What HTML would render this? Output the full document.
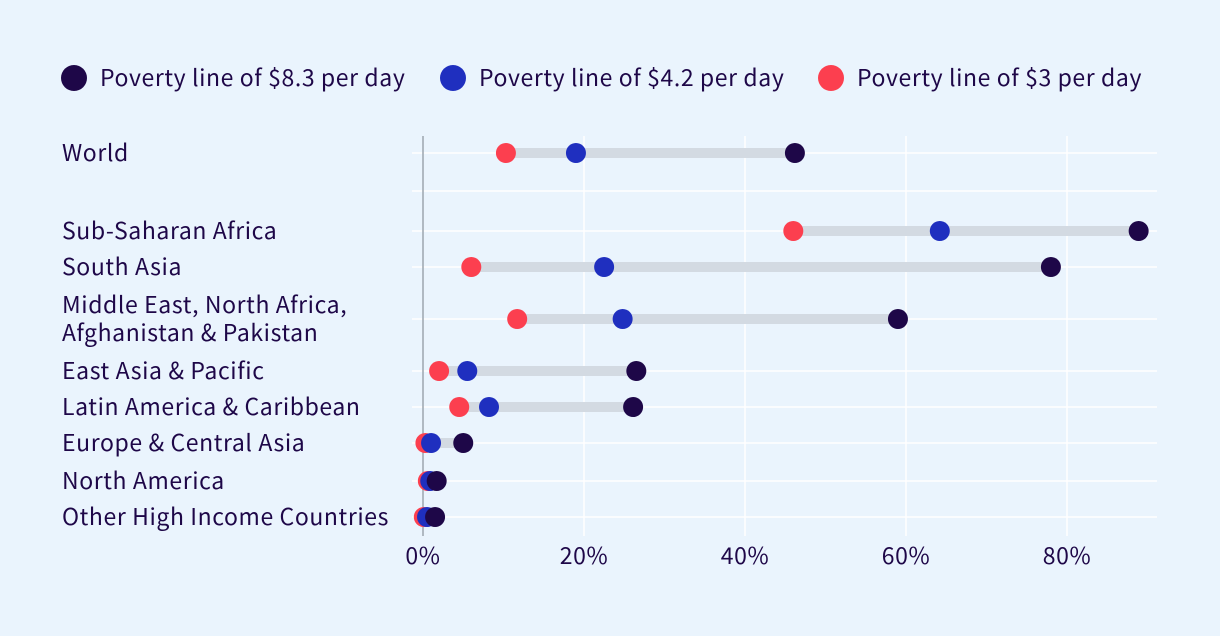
<!DOCTYPE html>
<html><head><meta charset="utf-8"><style>
body{margin:0;background:#eaf4fd;}
svg{display:block;font-family:"Noto Sans CJK JP","Liberation Sans",sans-serif;}
text{letter-spacing:0.6px;}
</style></head><body>
<svg id="chart" width="1220" height="636">
<rect width="1220" height="636" fill="#eaf4fd"/>
<g id="legend"></g>
<g id="grid"></g>
<g id="rows"></g>
<g id="xaxis"></g>
</svg>
<script>
const categories=["World","Sub-Saharan Africa","South Asia","Middle East, North Africa,|Afghanistan & Pakistan","East Asia & Pacific","Latin America & Caribbean","Europe & Central Asia","North America","Other High Income Countries"];
const line83=[46.2,88.9,78.0,59.0,26.5,26.1,5.0,1.7,1.5];
const line42=[19.0,64.2,22.5,24.8,5.5,8.2,1.0,0.9,0.5];
const line3=[10.3,46.0,6.0,11.7,2.0,4.5,0.3,0.6,0.1];
const tickValues=[0,20,40,60,80];
const tickLabels=["0%","20%","40%","60%","80%"];
const seriesNames=["Poverty line of $8.3 per day","Poverty line of $4.2 per day","Poverty line of $3 per day"];
const colors=["#1e0748","#1f2fbf","#fc3f4f"];
const rowY=[153,231,267,319,371,407,443,481,517];
const NS="http://www.w3.org/2000/svg";
function x(v){return 423+v*8.05;}
function mk(t,a,p){const e=document.createElementNS(NS,t);for(const k in a)e.setAttribute(k,a[k]);p.appendChild(e);return e;}
const grid=document.getElementById('grid'),rows=document.getElementById('rows'),xa=document.getElementById('xaxis'),lg=document.getElementById('legend');
const lx=[74,453,831];
seriesNames.forEach((n,i)=>{
 const c=mk('circle',{cx:lx[i],cy:78,r:13,fill:colors[i]},lg);
 
 
 const t=mk('text',{x:lx[i]+26,y:86,'font-size':23,fill:'#1e0748'},lg);t.textContent=n;
 
 
});
tickValues.forEach((v,i)=>{
 const l=mk('line',{x1:x(v),x2:x(v),y1:136,y2:536,stroke:'#ffffff','stroke-width':1.5},grid);
 
 
 const t=mk('text',{x:x(v),y:564,'font-size':23,fill:'#1e0748','text-anchor':'middle'},xa);t.textContent=tickLabels[i];
 
 
});
[...rowY,191].forEach(y=>{
 const l=mk('line',{x1:412,x2:1157,y1:y,y2:y,stroke:'#ffffff','stroke-width':1.5},grid);
 
 
});
const z=mk('line',{x1:423,x2:423,y1:136,y2:536,stroke:'#9aa3ad','stroke-width':1.5},grid);


categories.forEach((c,i)=>{
 const y=rowY[i];
 const parts=c.split('|');
 parts.forEach((p,j)=>{
  const t=mk('text',{x:62,y:y+8+(parts.length>1?(j-0.5)*28:0),'font-size':23,fill:'#1e0748'},rows);t.textContent=p;
  
  
 });
 const vals=[line83[i],line42[i],line3[i]];
 const b=mk('line',{x1:x(Math.min(...vals)),x2:x(Math.max(...vals)),y1:y,y2:y,stroke:'#d3dae2','stroke-width':10},rows);
 
 
 [2,1,0].forEach(s=>{
  const d=mk('circle',{cx:x(vals[s]),cy:y,r:10,fill:colors[s]},rows);
  
  
 });
});
</script>
</body></html>
